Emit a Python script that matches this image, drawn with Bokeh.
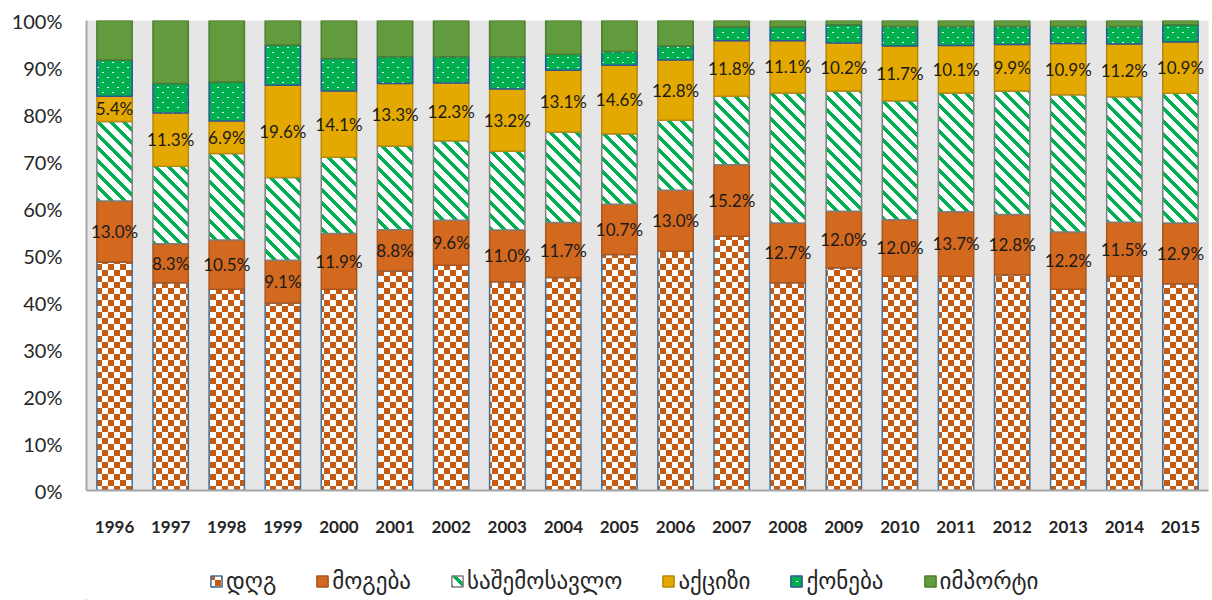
import zlib, struct, base64
from bokeh.plotting import figure
from bokeh.layouts import column
from bokeh.models import (ColumnDataSource, FactorRange, Range1d, PrintfTickFormatter,
                          FixedTicker, Legend, LegendItem, ImageURLTexture)
from bokeh.core.properties import value
from bokeh.embed import file_html
from bokeh.resources import INLINE

years = [str(y) for y in range(1996, 2016)]
vat     = [48.6, 44.2, 42.8, 39.9, 42.8, 46.7, 47.9, 44.4, 45.3, 50.2, 50.9, 54.1, 44.2, 47.4, 45.6, 45.6, 45.9, 42.8, 45.6, 44.0]
profit  = [13.0, 8.3, 10.5, 9.1, 11.9, 8.8, 9.6, 11.0, 11.7, 10.7, 13.0, 15.2, 12.7, 12.0, 12.0, 13.7, 12.8, 12.2, 11.5, 12.9]
income  = [16.9, 16.5, 18.4, 17.6, 16.2, 17.8, 16.9, 16.8, 19.3, 15.0, 14.9, 14.6, 27.7, 25.6, 25.3, 25.3, 26.3, 29.2, 26.7, 27.6]
excise  = [5.4, 11.3, 6.9, 19.6, 14.1, 13.3, 12.3, 13.2, 13.1, 14.6, 12.8, 11.8, 11.1, 10.2, 11.7, 10.1, 9.9, 10.9, 11.2, 10.9]
prop    = [7.7, 6.3, 8.3, 8.6, 6.9, 5.7, 5.6, 6.9, 3.4, 2.9, 3.0, 2.9, 2.9, 3.9, 4.1, 4.0, 3.8, 3.6, 3.7, 3.7]
imports = [8.4, 13.4, 13.1, 5.2, 8.1, 7.7, 7.7, 7.7, 7.2, 6.6, 5.4, 1.4, 1.4, 0.9, 1.3, 1.3, 1.3, 1.3, 1.3, 0.9]
series_names = ["დღგ", "მოგება", "საშემოსავლო", "აქციზი", "ქონება", "იმპორტი"]
y_ticks = [0, 10, 20, 30, 40, 50, 60, 70, 80, 90, 100]


def make_png(w, h, pixel):
    raw = b"".join(b"\x00" + bytes(c for x in range(w) for c in pixel(x, y)) for y in range(h))

    def chunk(t, d):
        return struct.pack(">I", len(d)) + t + d + struct.pack(">I", zlib.crc32(t + d) & 0xffffffff)

    data = (b"\x89PNG\r\n\x1a\n" + chunk(b"IHDR", struct.pack(">IIBBBBB", w, h, 8, 2, 0, 0, 0))
            + chunk(b"IDAT", zlib.compress(raw)) + chunk(b"IEND", b""))
    return "data:image/png;base64," + base64.b64encode(data).decode()


def hexrgb(c):
    c = c.lstrip("#")
    return tuple(int(c[i:i + 2], 16) for i in (0, 2, 4))


WHITE = (255, 255, 255)
ORANGE = hexrgb("#c65a11")
GREEN = hexrgb("#00b050")

checker_url = make_png(12, 12, lambda x, y: ORANGE if ((x // 6) + (y // 6)) % 2 == 0 else WHITE)
stripe_url = make_png(13, 13, lambda x, y: GREEN if ((x - y) % 13) < 5 else WHITE)


def dots(x, y):
    if (x, y) in [(2, 2), (3, 2), (7, 7), (8, 7)]:
        return (235, 250, 240)
    return GREEN


dot_url = make_png(10, 10, dots)

# stacking
stack = [vat, profit, income, excise, prop, imports]
bottoms, tops = [], []
cum = [0.0] * len(years)
for s in stack:
    b = list(cum)
    cum = [c + v for c, v in zip(cum, s)]
    bottoms.append(b)
    tops.append(list(cum))


def styles():
    return [
        dict(fill_color="white", line_color="#41719c", hatch_pattern="@", hatch_extra={"@": ImageURLTexture(url=checker_url)}),
        dict(fill_color="#d2691f", line_color="#a9571f"),
        dict(fill_color="white", line_color="#7f7f7f", hatch_pattern="@", hatch_extra={"@": ImageURLTexture(url=stripe_url)}),
        dict(fill_color="#e3a900", line_color="#b8890a"),
        dict(fill_color="#00b050", line_color="#2f5597", hatch_pattern="@", hatch_extra={"@": ImageURLTexture(url=dot_url)}),
        dict(fill_color="#629b3d", line_color="#4e7d30"),
    ]


p = figure(width=1212, height=560, x_range=FactorRange(*years, range_padding=0),
           y_range=Range1d(0, 100), output_backend="svg", toolbar_location=None,
           min_border_left=86, min_border_right=4, min_border_top=20, min_border_bottom=70)
p.background_fill_color = "#e7e6e6"
p.border_fill_color = "white"
p.outline_line_color = None
p.xgrid.visible = False
p.ygrid.visible = False

for i, st in enumerate(styles()):
    src = ColumnDataSource(dict(x=years, bottom=bottoms[i], top=tops[i]))
    p.vbar(x="x", bottom="bottom", top="top", width=0.63, source=src, line_width=1.5, **st)

# data labels for profit and excise
for i in (1, 3):
    lsrc = ColumnDataSource(dict(x=years, y=[(b + t) / 2 for b, t in zip(bottoms[i], tops[i])],
                                 t=[f"{v:.1f}%" for v in stack[i]]))
    p.text(x="x", y="y", text="t", source=lsrc, text_font=value("Lato"), text_font_size="17px",
           text_align="center", text_baseline="middle", text_color="#1a1a1a")

p.yaxis.ticker = FixedTicker(ticks=y_ticks)
p.yaxis.formatter = PrintfTickFormatter(format="%d%%")
p.yaxis.major_label_text_font = "Lato"
p.yaxis.major_label_text_font_size = "20px"
p.yaxis.major_label_text_color = "#262626"
p.yaxis.major_tick_line_color = None
p.yaxis.minor_tick_line_color = None
p.yaxis.major_label_standoff = 18
p.yaxis.axis_line_color = "#a6a6a6"
p.yaxis.axis_line_width = 2

p.xaxis.major_label_text_font = "Lato"
p.xaxis.major_label_text_font_style = "bold"
p.xaxis.major_label_text_font_size = "17px"
p.xaxis.major_label_text_color = "#262626"
p.xaxis.major_tick_line_color = None
p.xaxis.major_label_standoff = 24
p.xaxis.axis_line_color = "#a6a6a6"
p.xaxis.axis_line_width = 2

# legend strip (a second figure below the chart)
lg = figure(width=1212, height=40, x_range=Range1d(0, 1), y_range=Range1d(0, 1),
            output_backend="svg", toolbar_location=None,
            min_border_left=0, min_border_right=0, min_border_top=0, min_border_bottom=0)
lg.axis.visible = False
lg.grid.visible = False
lg.outline_line_color = None
lg.background_fill_color = None
lg.border_fill_color = "white"
leg_renderers = []
for st in styles():
    # off-screen proxy bars, only used to draw the legend swatches
    leg_renderers.append(lg.vbar(x=[-10], bottom=[-10], top=[-9], width=0.5, line_width=1.5, **st))

legend = Legend(items=[LegendItem(label=n, renderers=[r]) for n, r in zip(series_names, leg_renderers)],
                orientation="horizontal", location=(123, 6), padding=0, margin=0,
                spacing=39, label_standoff=3, glyph_width=14, glyph_height=14,
                label_text_font="DejaVu Sans", label_text_font_size="23px",
                label_text_color="#262626", background_fill_alpha=0, border_line_color=None)
lg.add_layout(legend, "center")

layout = column(p, lg, spacing=0)
open("out.html", "w").write(file_html(layout, INLINE))
